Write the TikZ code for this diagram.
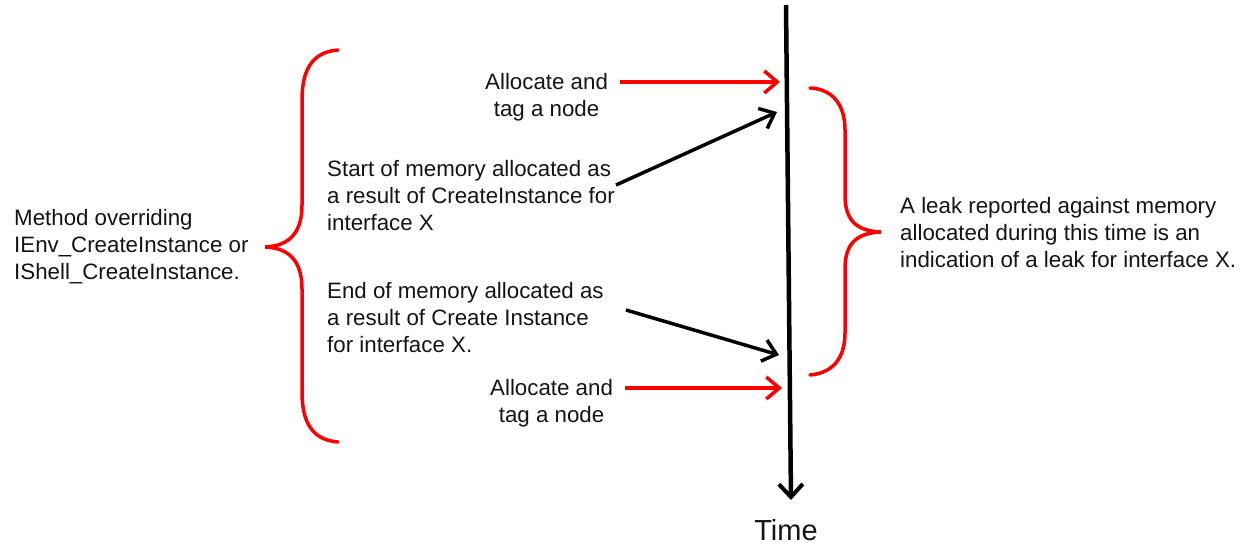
\documentclass[tikz,border=0pt]{standalone}
\usepackage{fontspec}
\setmainfont{Liberation Sans}
\usetikzlibrary{arrows.meta}
\definecolor{brace}{RGB}{255,0,0}
\definecolor{ink}{RGB}{20,20,20}
\begin{document}
\begin{tikzpicture}[x=1pt,y=-1pt,
  lbl/.style={inner sep=0pt, text=ink, font=\fontsize{22.3}{27}\selectfont},
  tip/.style={-{Straight Barb[length=13pt,width=22pt,line width=3.5pt]}},
  redarrow/.style={draw=brace, line width=3.5pt, tip},
  blackarrow/.style={draw=black, line width=3.5pt, tip},
  bracepath/.style={draw=brace, line width=3.5pt, line cap=round}]
\useasboundingbox (0,0) rectangle (1244,544);

% time axis
\coordinate (ttop) at (786,5);
\coordinate (tbot) at (791,500);
\draw[line width=4.5pt, -{Straight Barb[length=13pt,width=24pt,line width=4pt]}] (ttop) -- (tbot);
\node[inner sep=0pt, text=ink, font=\fontsize{29}{34}\selectfont] (time) at (786,530) {Time};

% points on the time axis
\coordinate (p1) at (780,82);
\coordinate (p2) at (777,112);
\coordinate (p3) at (779,355);
\coordinate (p4) at (782,388);

% labels
\node[lbl, align=center, anchor=west] (alloc1) at (485,97) {Allocate and\\tag a node};
\node[lbl, align=left, anchor=west] (start) at (327,196) {Start of memory allocated as\\a result of CreateInstance for\\interface X};
\node[lbl, align=left, anchor=west] (end) at (327,318) {End of memory allocated as\\a result of Create Instance\\for interface X.};
\node[lbl, align=center, anchor=west] (alloc2) at (490,403) {Allocate and\\tag a node};
\node[lbl, align=left, anchor=west] (method) at (14,247) {Method overriding\\IEnv\_CreateInstance or\\IShell\_CreateInstance.};
\node[lbl, align=left, anchor=west] (leak) at (900,233) {A leak reported against memory\\allocated during this time is an\\indication of a leak for interface X.};

% arrows onto the time axis
\draw[redarrow] (620,82) -- (p1);
\draw[blackarrow] (616,185) -- (p2);
\draw[blackarrow] (626,310) -- (p3);
\draw[redarrow] (625,388) -- (p4);

% left brace
\draw[bracepath] (338,50) .. controls (312,52) and (302,70) .. (302,100)
  -- (302,205) .. controls (302,232) and (290,246) .. (265,247)
  .. controls (290,248) and (302,262) .. (302,289)
  -- (302,392) .. controls (302,422) and (312,440) .. (338,442);

% right brace
\draw[bracepath] (810,88) .. controls (832,89) and (845,104) .. (845,130)
  -- (845,195) .. controls (845,220) and (856,231) .. (881,232)
  .. controls (856,233) and (845,244) .. (845,269)
  -- (845,333) .. controls (845,359) and (832,373) .. (810,375);
\end{tikzpicture}
\end{document}
